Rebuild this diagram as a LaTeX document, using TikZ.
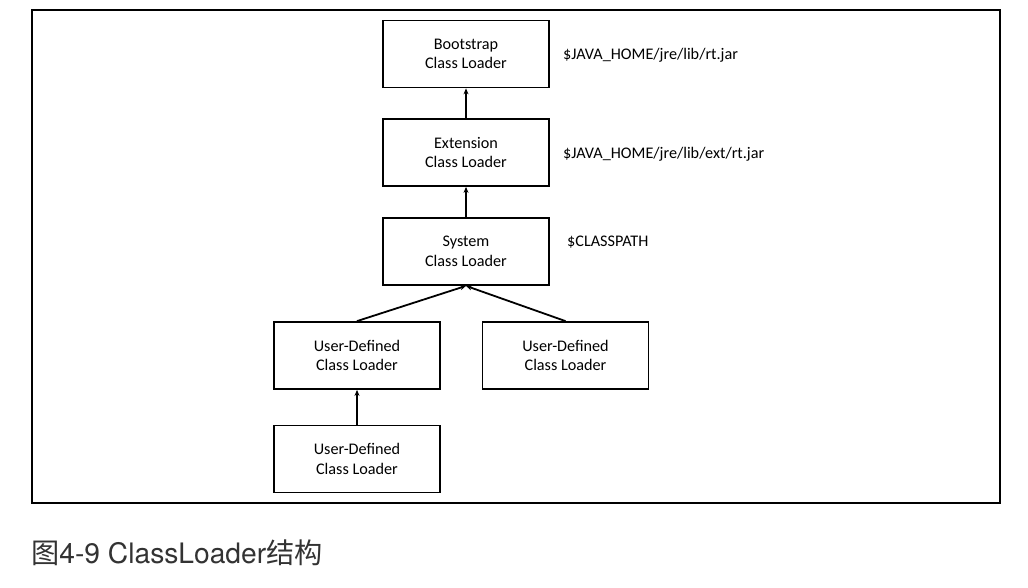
\documentclass[tikz,border=0pt]{standalone}
\usepackage{fontspec}
\setmainfont{Carlito}
\newfontfamily\cjk{Noto Sans CJK SC}
\newfontfamily\heros{TeX Gyre Heros}
\usetikzlibrary{arrows.meta}
\definecolor{captiongray}{HTML}{333333}
\begin{document}
\begin{tikzpicture}[x=1pt,y=-1pt,
  loader/.style={draw=black,line width=1.8pt,minimum width=166pt,minimum height=67pt,align=center,font=\fontsize{16.2}{19.5}\selectfont,inner sep=0pt},
  pathlabel/.style={anchor=west,font=\fontsize{16.2}{19}\selectfont,inner sep=0pt},
  link/.style={line width=1.8pt,-{Stealth[length=6pt,width=5pt]}}]
\useasboundingbox (0,0) rectangle (1028,588);
\draw[line width=1.3pt] (32,10) rectangle (1000,503);
\node[loader] (boot) at (466,54) {Bootstrap\\Class Loader};
\node[loader] (ext) at (466,152.5) {Extension\\Class Loader};
\node[loader] (sys) at (466,251.5) {System\\Class Loader};
\node[loader] (ud1) at (357,355.5) {User-Defined\\Class Loader};
\node[loader] (ud2) at (565.5,355.5) {User-Defined\\Class Loader};
\node[loader] (ud3) at (357,459) {User-Defined\\Class Loader};
\node[pathlabel] (l1) at (563,55) {\$JAVA\_HOME/jre/lib/rt.jar};
\node[pathlabel] (l2) at (563,154) {\$JAVA\_HOME/jre/lib/ext/rt.jar};
\node[pathlabel] (l3) at (567,242) {\$CLASSPATH};
\draw[link] (ext) -- (boot);
\draw[link] (sys) -- (ext);
\draw[link] (ud1.north) -- (sys.south);
\draw[link] (ud2.north) -- (sys.south);
\draw[link] (ud3) -- (ud1);
\node[anchor=west,inner sep=0pt,text=captiongray,font=\fontsize{28.2}{33}\selectfont] (cap) at (31,553) {{\cjk 图}{\heros 4-9 ClassLoader}{\cjk 结构}};
\end{tikzpicture}
\end{document}
